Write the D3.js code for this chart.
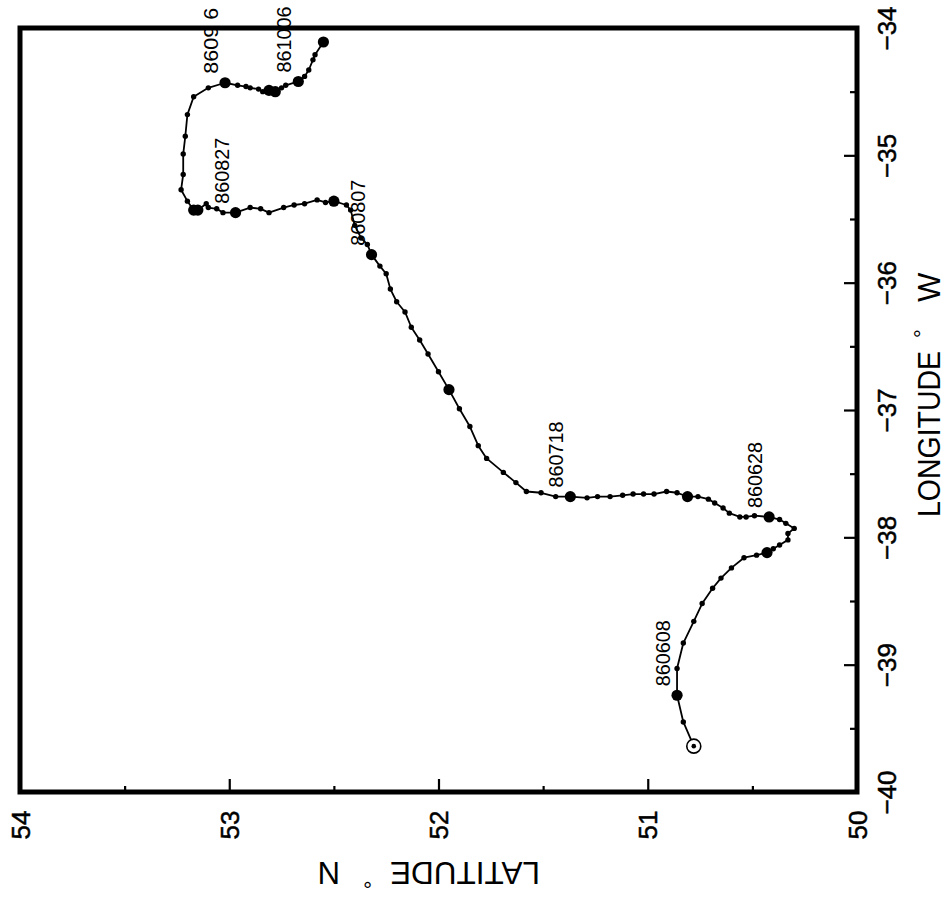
<!DOCTYPE html>
<html><head><meta charset="utf-8">
<script src="https://cdn.jsdelivr.net/npm/d3@7"></script>
<style>body{margin:0;background:#fff}svg{display:block}</style>
</head><body>
<script>
// ---- data: drifter track (latitude °N, longitude °W as negative) ----
const lat = [50.78,50.83,50.86,50.86,50.83,50.78,50.74,50.69,50.65,50.60,
  50.54,50.48,50.43,50.40,50.37,50.33,50.33,50.30,50.34,50.37,
  50.42,50.49,50.53,50.56,50.61,50.64,50.68,50.71,50.76,50.81,
  50.86,50.91,50.97,51.02,51.07,51.12,51.18,51.24,51.29,51.37,
  51.44,51.51,51.58,51.63,51.69,51.77,51.81,51.85,51.90,51.95,
  52.00,52.05,52.09,52.13,52.16,52.20,52.23,52.25,52.28,52.32,
  52.34,52.37,52.40,52.42,52.44,52.50,52.54,52.58,52.64,52.69,
  52.74,52.81,52.85,52.90,52.97,53.03,53.06,53.10,53.11,53.15,
  53.17,53.20,53.23,53.22,53.22,53.21,53.20,53.17,53.10,53.02,
  52.96,52.92,52.90,52.86,52.84,52.81,52.78,52.75,52.73,52.67,
  52.64,52.62,52.60,52.59,52.55];
const lon = [-39.64,-39.45,-39.24,-39.03,-38.83,-38.66,-38.52,-38.40,-38.32,-38.24,
  -38.16,-38.14,-38.12,-38.09,-38.06,-38.02,-37.97,-37.93,-37.89,-37.86,
  -37.84,-37.83,-37.84,-37.84,-37.81,-37.77,-37.73,-37.70,-37.68,-37.68,
  -37.65,-37.64,-37.66,-37.66,-37.66,-37.67,-37.68,-37.68,-37.69,-37.68,
  -37.68,-37.65,-37.64,-37.57,-37.49,-37.38,-37.28,-37.13,-36.99,-36.84,
  -36.70,-36.56,-36.45,-36.35,-36.23,-36.15,-36.05,-35.93,-35.87,-35.78,
  -35.70,-35.65,-35.55,-35.43,-35.39,-35.36,-35.37,-35.35,-35.38,-35.39,
  -35.41,-35.45,-35.42,-35.41,-35.45,-35.45,-35.42,-35.41,-35.38,-35.43,
  -35.43,-35.36,-35.27,-35.15,-34.99,-34.85,-34.68,-34.54,-34.47,-34.43,
  -34.45,-34.46,-34.47,-34.48,-34.50,-34.49,-34.50,-34.47,-34.45,-34.42,
  -34.38,-34.33,-34.25,-34.21,-34.11];
const dayMarkIdx = [2,12,20,29,39,49,59,65,74,79,80,89,95,96,99,104];
const dateLabels = ["860608","860628","860718","860807","860827","8609 6","861006"];
const dateLabelIdx = [2,20,39,59,74,89,99];
const latTicks = [54,53,52,51,50];
const latMinorTicks = [53.5,52.5,51.5,50.5];
const lonTicks = [-40,-39,-38,-37,-36,-35,-34];
const lonMinorTicks = [-39.5,-38.5,-37.5,-36.5,-35.5,-34.5];
const xTitle = ["LONGITUDE","°","W"];
const yTitle = ["LATITUDE","°","N"];

// ---- layout (chart rotated: latitude runs horizontally, longitude vertically) ----
const W = 946, H = 913;
const L = 20, R = 857, T = 28, B = 792;
const svg = d3.select("body").append("svg").attr("width", W).attr("height", H);
const x = d3.scaleLinear().domain([54, 50]).range([L, R]);
const y = d3.scaleLinear().domain([-40, -34]).range([B, T]);
const FONT = "'Liberation Sans', Arial, sans-serif";

function styleAxis(g){ g.select(".domain").remove(); g.selectAll("line").attr("stroke","#000").attr("stroke-width",2.2); }

const bx = svg.append("g").attr("transform", `translate(0,${B})`)
  .call(d3.axisBottom(x).tickValues(latTicks).tickSizeInner(-13).tickSizeOuter(0).tickFormat(d3.format("d")));
styleAxis(bx);
bx.selectAll("text").attr("y", null).attr("dy", null)
  .attr("transform", "translate(0,33) rotate(-90)")
  .attr("text-anchor", "middle").attr("dominant-baseline", "central")
  .attr("font-family", FONT).attr("font-size", 26).attr("fill", "#000")
  .attr("stroke", "#000").attr("stroke-width", 0.5);
const bxm = svg.append("g").attr("transform", `translate(0,${B})`)
  .call(d3.axisBottom(x).tickValues(latMinorTicks).tickSizeInner(-6).tickSizeOuter(0).tickFormat(""));
styleAxis(bxm);

const ry = svg.append("g").attr("transform", `translate(${R},0)`)
  .call(d3.axisRight(y).tickValues(lonTicks).tickSizeInner(-13).tickSizeOuter(0).tickFormat(d3.format("d")));
styleAxis(ry);
ry.selectAll("text").attr("x", null).attr("dy", null)
  .attr("transform", "translate(30,0) rotate(-90)")
  .attr("text-anchor", "middle").attr("dominant-baseline", "central")
  .attr("font-family", FONT).attr("font-size", 26).attr("fill", "#000")
  .attr("stroke", "#000").attr("stroke-width", 0.5);
const rym = svg.append("g").attr("transform", `translate(${R},0)`)
  .call(d3.axisRight(y).tickValues(lonMinorTicks).tickSizeInner(-7).tickSizeOuter(0).tickFormat(""));
styleAxis(rym);

// frame
svg.append("rect").attr("x", L).attr("y", T).attr("width", R - L).attr("height", B - T)
  .attr("fill", "none").attr("stroke", "#000").attr("stroke-width", 5);

// axis titles
const gt = svg.append("g").attr("transform", "translate(940,0) rotate(-90)")
  .attr("font-family", FONT).attr("fill", "#000");
gt.append("text").attr("x", -517).attr("y", 0).attr("font-size", 31)
  .attr("textLength", 166).attr("lengthAdjust", "spacingAndGlyphs").text(xTitle[0]);
gt.append("text").attr("x", -338).attr("y", -10).attr("font-size", 22).text(xTitle[1]);
gt.append("text").attr("x", -302).attr("y", 0).attr("font-size", 31).text(xTitle[2]);

const gl = svg.append("g").attr("transform", "translate(0,862) rotate(180)")
  .attr("font-family", FONT).attr("fill", "#000");
gl.append("text").attr("x", -540).attr("y", 0).attr("font-size", 31)
  .attr("textLength", 150).attr("lengthAdjust", "spacingAndGlyphs").text(yTitle[0]);
gl.append("text").attr("x", -372).attr("y", -10).attr("font-size", 22).text(yTitle[1]);
gl.append("text").attr("x", -340).attr("y", 0).attr("font-size", 31).text(yTitle[2]);

// track
const pts = lat.map((v, i) => [x(v), y(lon[i])]);
svg.append("path").attr("d", d3.line()(pts)).attr("fill", "none")
  .attr("stroke", "#000").attr("stroke-width", 1.8).attr("stroke-linejoin", "round");
svg.append("g").selectAll("circle").data(pts.slice(1)).join("circle")
  .attr("cx", d => d[0]).attr("cy", d => d[1]).attr("r", 2.7).attr("fill", "#000");
svg.append("g").selectAll("circle").data(dayMarkIdx).join("circle")
  .attr("cx", i => pts[i][0]).attr("cy", i => pts[i][1]).attr("r", 5.6).attr("fill", "#000");
svg.append("circle").attr("cx", pts[0][0]).attr("cy", pts[0][1]).attr("r", 7)
  .attr("fill", "#fff").attr("stroke", "#000").attr("stroke-width", 1.6);
svg.append("circle").attr("cx", pts[0][0]).attr("cy", pts[0][1]).attr("r", 2.3).attr("fill", "#000");

// date labels
svg.append("g").selectAll("text").data(dateLabelIdx).join("text")
  .attr("transform", i => `translate(${pts[i][0] - 7},${pts[i][1] - 9}) rotate(-90)`)
  .attr("font-family", FONT).attr("font-size", 20).attr("fill", "#000")
  .attr("textLength", 66).attr("lengthAdjust", "spacingAndGlyphs")
  .text((i, k) => dateLabels[k]);
</script>
</body></html>
